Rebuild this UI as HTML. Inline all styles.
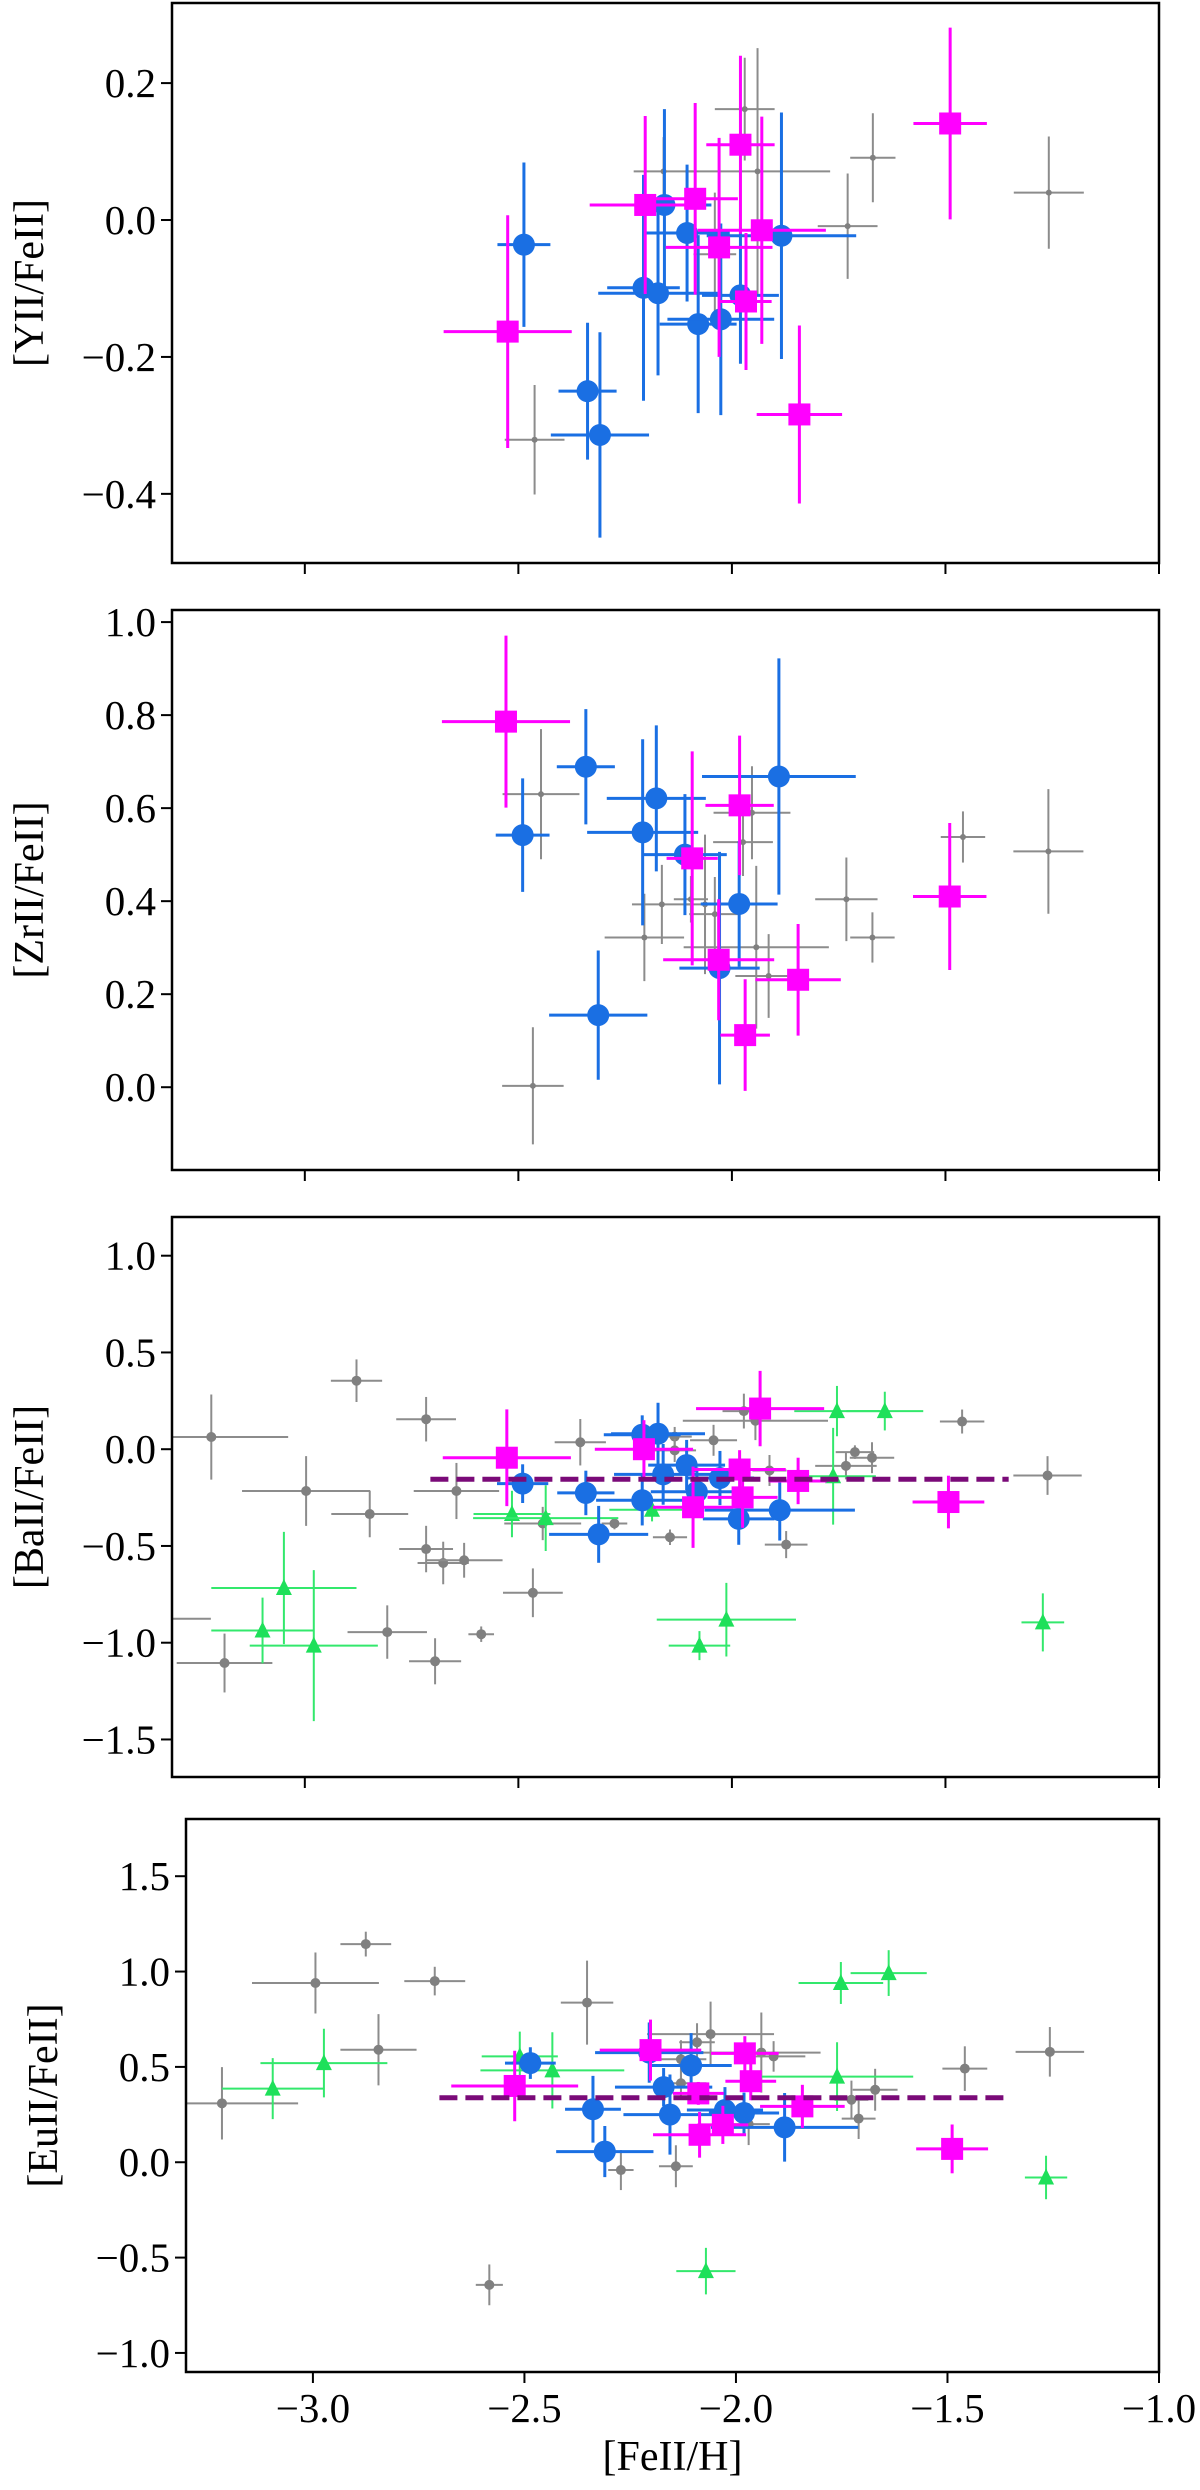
<!DOCTYPE html>
<html><head><meta charset="utf-8"><style>
html,body{margin:0;padding:0;background:#fff;}
svg{display:block;}
text{font-family:"Liberation Serif","DejaVu Serif",serif;fill:#000;}
</style></head><body>
<svg id="fig" width="1200" height="2490" viewBox="0 0 1200 2490" xmlns="http://www.w3.org/2000/svg"></svg>
<script>
// ---- Panel 1: [YII/FeII]
const yGrayX=[-2.462,-1.97,-2.16,-1.94,-2.04,-1.67,-1.729,-1.258];
const yGrayY=[-0.321,0.162,0.071,0.071,-0.05,0.091,-0.009,0.04];
const yGrayXe=[0.07,0.07,0.07,0.17,0.05,0.053,0.07,0.082];
const yGrayYe=[0.08,0.075,0.05,0.18,0.09,0.065,0.077,0.082];
const yBlueX=[-2.487,-2.158,-2.105,-1.884,-2.207,-2.173,-1.98,-2.079,-2.026,-2.338,-2.309];
const yBlueY=[-0.036,0.022,-0.019,-0.023,-0.099,-0.107,-0.11,-0.152,-0.145,-0.25,-0.314];
const yBlueXe=[0.062,0.11,0.1,0.175,0.085,0.14,0.09,0.09,0.125,0.068,0.115];
const yBlueYe=[0.12,0.14,0.1,0.18,0.165,0.12,0.1,0.13,0.14,0.1,0.15];
const yMagX=[-2.525,-2.203,-2.086,-1.98,-1.93,-2.03,-1.967,-1.842,-1.489];
const yMagY=[-0.163,0.022,0.031,0.11,-0.015,-0.04,-0.119,-0.284,0.141];
const yMagXe=[0.15,0.13,0.1,0.08,0.15,0.125,0.06,0.1,0.086];
const yMagYe=[0.17,0.13,0.14,0.13,0.166,0.16,0.1,0.13,0.14];
// ---- Panel 2: [ZrII/FeII]
const zGrayX=[-2.447,-1.953,-1.974,-2.164,-2.096,-2.063,-2.04,-2.205,-1.943,-1.914,-1.732,-1.671,-1.459,-1.259,-2.466];
const zGrayY=[0.63,0.59,0.527,0.393,0.404,0.393,0.372,0.322,0.301,0.239,0.404,0.322,0.538,0.507,0.003];
const zGrayXe=[0.09,0.09,0.07,0.07,0.04,0.05,0.06,0.093,0.17,0.078,0.073,0.052,0.052,0.082,0.072];
const zGrayYe=[0.14,0.1,0.073,0.085,0.05,0.15,0.08,0.094,0.175,0.09,0.09,0.054,0.055,0.134,0.126];
const zBlueX=[-2.49,-2.342,-2.177,-2.209,-2.11,-1.89,-1.983,-2.029,-2.313];
const zBlueY=[0.542,0.689,0.621,0.548,0.5,0.668,0.394,0.256,0.155];
const zBlueXe=[0.063,0.068,0.116,0.13,0.098,0.18,0.09,0.094,0.115];
const zBlueYe=[0.122,0.124,0.157,0.2,0.13,0.254,0.135,0.25,0.139];
const zMagX=[-2.529,-1.982,-2.093,-2.031,-1.845,-1.969,-1.49];
const zMagY=[0.786,0.606,0.492,0.274,0.231,0.112,0.41];
const zMagXe=[0.15,0.08,0.06,0.13,0.1,0.058,0.086];
const zMagYe=[0.185,0.15,0.23,0.13,0.12,0.12,0.158];
// ---- Panel 3: [BaII/FeII]
const bGrayX=[-3.219,-2.879,-2.716,-2.997,-2.848,-2.645,-2.355,-2.716,-2.676,-2.627,-2.466,-2.807,-2.695,-3.188,-2.587,-3.36,-2.443,-2.275,-2.145,-1.873,-2.134,-2.134,-2.043,-1.972,-1.945,-1.712,-1.672,-1.733,-1.461,-1.261,-1.912];
const bGrayY=[0.063,0.354,0.155,-0.216,-0.335,-0.216,0.036,-0.516,-0.588,-0.574,-0.742,-0.945,-1.096,-1.105,-0.956,-0.876,-0.384,-0.384,-0.455,-0.493,0.065,-0.006,0.046,0.197,0.147,-0.015,-0.044,-0.086,0.143,-0.136,-0.11];
const bGrayXe=[0.18,0.06,0.07,0.15,0.09,0.1,0.06,0.063,0.06,0.09,0.07,0.093,0.061,0.112,0.03,0.14,0.09,0.03,0.04,0.05,0.04,0.05,0.055,0.05,0.17,0.045,0.052,0.072,0.052,0.08,0.04];
const bGrayYe=[0.22,0.11,0.115,0.18,0.12,0.145,0.12,0.12,0.11,0.09,0.126,0.138,0.119,0.152,0.04,0.1,0.086,0.03,0.04,0.07,0.05,0.06,0.08,0.09,0.1,0.035,0.08,0.07,0.062,0.1,0.08];
const bGreenX=[-3.049,-3.099,-2.979,-2.515,-2.436,-2.187,-1.754,-1.642,-1.763,-2.013,-2.076,-1.272];
const bGreenY=[-0.717,-0.937,-1.015,-0.335,-0.356,-0.313,0.197,0.197,-0.14,-0.881,-1.015,-0.895];
const bGreenXe=[0.17,0.12,0.15,0.09,0.17,0.1,0.1,0.09,0.1,0.163,0.072,0.05];
const bGreenYe=[0.29,0.17,0.39,0.12,0.17,0.06,0.13,0.1,0.25,0.19,0.075,0.15];
const bMagX=[-2.527,-2.206,-1.934,-1.982,-1.845,-1.493,-2.091,-1.975];
const bMagY=[-0.044,0.0,0.21,-0.105,-0.164,-0.273,-0.3,-0.249];
const bMagXe=[0.15,0.115,0.15,0.108,0.067,0.084,0.094,0.082];
const bMagYe=[0.25,0.15,0.195,0.1,0.12,0.136,0.21,0.157];
const bBlueX=[-2.49,-2.342,-2.21,-2.173,-2.161,-2.106,-2.21,-2.082,-2.028,-1.984,-1.888,-2.312];
const bBlueY=[-0.178,-0.226,0.075,0.08,-0.13,-0.082,-0.264,-0.22,-0.149,-0.36,-0.315,-0.44];
const bBlueXe=[0.06,0.067,0.09,0.11,0.115,0.09,0.108,0.108,0.08,0.084,0.176,0.116];
const bBlueYe=[0.1,0.115,0.1,0.16,0.157,0.13,0.13,0.125,0.14,0.134,0.157,0.147];
const bMean=[-0.155];
const bMeanRange=[-2.706,-1.352];
// ---- Panel 4: [EuII/FeII]
const eGrayX=[-3.215,-2.994,-2.875,-2.712,-2.845,-2.352,-2.583,-2.272,-2.142,-1.71,-1.459,-1.258,-2.06,-2.092,-2.13,-2.13,-1.94,-1.911,-1.671,-1.727,-1.97];
const eGrayY=[0.309,0.94,1.144,0.95,0.59,0.837,-0.643,-0.041,-0.021,0.229,0.491,0.579,0.672,0.629,0.54,0.414,0.575,0.555,0.38,0.328,0.2];
const eGrayXe=[0.18,0.15,0.06,0.072,0.09,0.062,0.032,0.03,0.04,0.04,0.053,0.081,0.15,0.042,0.06,0.06,0.14,0.075,0.053,0.04,0.05];
const eGrayYe=[0.19,0.16,0.065,0.075,0.187,0.22,0.107,0.105,0.11,0.107,0.117,0.13,0.17,0.1,0.1,0.08,0.21,0.08,0.11,0.1,0.11];
const eGreenX=[-3.095,-2.974,-2.511,-2.434,-1.752,-1.639,-1.761,-2.071,-1.267];
const eGreenY=[0.386,0.52,0.555,0.482,0.94,0.992,0.449,-0.571,-0.08];
const eGreenXe=[0.12,0.15,0.09,0.17,0.1,0.09,0.18,0.07,0.05];
const eGreenYe=[0.16,0.18,0.13,0.2,0.11,0.12,0.18,0.122,0.114];
const eMagX=[-2.523,-2.202,-1.979,-1.965,-1.843,-2.086,-2.031,-2.089,-1.489];
const eMagY=[0.4,0.588,0.571,0.425,0.293,0.144,0.196,0.361,0.07];
const eMagXe=[0.15,0.12,0.08,0.06,0.1,0.11,0.06,0.06,0.085];
const eMagYe=[0.185,0.16,0.09,0.1,0.113,0.12,0.1,0.06,0.128];
const eBlueX=[-2.486,-2.205,-2.106,-2.171,-2.338,-2.156,-2.026,-1.981,-1.885,-2.31];
const eBlueY=[0.52,0.575,0.507,0.394,0.278,0.25,0.274,0.258,0.183,0.056];
const eBlueXe=[0.06,0.128,0.096,0.115,0.066,0.11,0.09,0.083,0.174,0.115];
const eBlueYe=[0.083,0.158,0.17,0.1,0.175,0.21,0.12,0.107,0.18,0.134];
const eMean=[0.338];
const eMeanRange=[-2.701,-1.352];
// ---- axes ticks
const xTicks=[-3.0,-2.5,-2.0,-1.5,-1.0];
const yTicksY=[-0.4,-0.2,0.0,0.2];
const yTicksZ=[0.0,0.2,0.4,0.6,0.8,1.0];
const yTicksB=[-1.5,-1.0,-0.5,0.0,0.5,1.0];
const yTicksE=[-1.0,-0.5,0.0,0.5,1.0,1.5];

const NS='http://www.w3.org/2000/svg';
const svg=document.getElementById('fig');
function mk(tag,attrs,parent){const e=document.createElementNS(NS,tag);for(const k in attrs)e.setAttribute(k,attrs[k]);(parent||svg).appendChild(e);return e;}
function fmt(v){const s=Math.abs(v).toFixed(1);return (v<-1e-9?'\u2212':'')+s;}

const panels=[
 {key:'yii',title:'[YII/FeII]',L:172,R:1159,T:3,B:563,xmin:-3.311,xmax:-1.0,ymin:-0.501,ymax:0.317,ticks:yTicksY,gr:3,
  series:[['gray',yGrayX,yGrayY,yGrayXe,yGrayYe],['blue',yBlueX,yBlueY,yBlueXe,yBlueYe],['magenta',yMagX,yMagY,yMagXe,yMagYe]]},
 {key:'zrii',title:'[ZrII/FeII]',L:172,R:1159,T:610,B:1170,xmin:-3.311,xmax:-1.0,ymin:-0.178,ymax:1.026,ticks:yTicksZ,gr:3,
  series:[['gray',zGrayX,zGrayY,zGrayXe,zGrayYe],['blue',zBlueX,zBlueY,zBlueXe,zBlueYe],['magenta',zMagX,zMagY,zMagXe,zMagYe]]},
 {key:'baii',title:'[BaII/FeII]',L:172,R:1159,T:1217,B:1777,xmin:-3.311,xmax:-1.0,ymin:-1.694,ymax:1.2,ticks:yTicksB,gr:5,
  series:[['gray',bGrayX,bGrayY,bGrayXe,bGrayYe],['green',bGreenX,bGreenY,bGreenXe,bGreenYe],['blue',bBlueX,bBlueY,bBlueXe,bBlueYe],['magenta',bMagX,bMagY,bMagXe,bMagYe]],
  mean:bMean,meanRange:bMeanRange},
 {key:'euii',title:'[EuII/FeII]',L:186,R:1159,T:1819,B:2372,xmin:-3.30,xmax:-1.0,ymin:-1.10,ymax:1.80,ticks:yTicksE,gr:5,xlabels:true,
  series:[['gray',eGrayX,eGrayY,eGrayXe,eGrayYe],['green',eGreenX,eGreenY,eGreenXe,eGreenYe],['blue',eBlueX,eBlueY,eBlueXe,eBlueYe],['magenta',eMagX,eMagY,eMagXe,eMagYe]],
  mean:eMean,meanRange:eMeanRange}
];
const col={gray:'#808080',green:'#1ee05a',blue:'#1a6fe3',magenta:'#ff00ff'};
const ecol={gray:'#8c8c8c',green:'#33e86c',blue:'#1a6fe3',magenta:'#ff00ff'};
const elw={gray:2,green:2,blue:3,magenta:3};

panels.forEach((p,pi)=>{
  const sx=v=>p.L+(v-p.xmin)/(p.xmax-p.xmin)*(p.R-p.L);
  const sy=v=>p.B-(v-p.ymin)/(p.ymax-p.ymin)*(p.B-p.T);
  const g=mk('g',{});
  
  
  const cp=mk('clipPath',{id:'clip'+pi},g);
  mk('rect',{x:p.L,y:p.T,width:p.R-p.L,height:p.B-p.T},cp);
  const plot=mk('g',{'clip-path':'url(#clip'+pi+')'},g);
  
  
  p.series.forEach(s=>{
    const [name,X,Y,XE,YE]=s;
    const sg=mk('g',{},plot);
    
    
    for(let i=0;i<X.length;i++){
      const cx=sx(X[i]),cy=sy(Y[i]);
      const eb=mk('g',{stroke:ecol[name],'stroke-width':elw[name]},sg);
      
      
      mk('line',{x1:sx(X[i]-XE[i]),x2:sx(X[i]+XE[i]),y1:cy,y2:cy},eb);
      mk('line',{x1:cx,x2:cx,y1:sy(Y[i]-YE[i]),y2:sy(Y[i]+YE[i])},eb);
      let m;
      if(name==='gray'){m=mk('circle',{cx:cx,cy:cy,r:p.gr,fill:col.gray},sg);}
      else if(name==='blue'){m=mk('circle',{cx:cx,cy:cy,r:11,fill:col.blue},sg);}
      else if(name==='magenta'){m=mk('rect',{x:cx-11,y:cy-11,width:22,height:22,fill:col.magenta},sg);}
      else {m=mk('polygon',{points:(cx-8)+','+(cy+7)+' '+(cx+8)+','+(cy+7)+' '+cx+','+(cy-9),fill:col.green},sg);}
      
      
    }
  });
  if(p.mean){
    const ml=mk('line',{x1:sx(p.meanRange[0]),x2:sx(p.meanRange[1]),y1:sy(p.mean[0]),y2:sy(p.mean[0]),stroke:'#7a0a78','stroke-width':5,'stroke-dasharray':'18,8'},plot);
    
    
  }
  const fr=mk('rect',{x:p.L,y:p.T,width:p.R-p.L,height:p.B-p.T,fill:'none',stroke:'#000','stroke-width':2.5},g);
  
  
  p.ticks.forEach(t=>{
    const y=sy(t);
    const tk=mk('line',{x1:p.L-11,x2:p.L,y1:y,y2:y,stroke:'#000','stroke-width':2},g);
    
    
    const tl=mk('text',{x:p.L-16,y:y+14,'text-anchor':'end','font-size':41},g);
    tl.textContent=fmt(t);
    
    
  });
  xTicks.forEach(t=>{
    const x=sx(t);
    const tk=mk('line',{x1:x,x2:x,y1:p.B,y2:p.B+11,stroke:'#000','stroke-width':2},g);
    
    
    if(p.xlabels){
      const tl=mk('text',{x:x,y:p.B+50,'text-anchor':'middle','font-size':41},g);
      tl.textContent=fmt(t);
      
      
    }
  });
  const yc=(p.T+p.B)/2, xt=pi===3?44:30;
  const yt=mk('text',{x:xt,y:yc,'text-anchor':'middle','font-size':42,transform:'rotate(-90 '+xt+' '+yc+')','dominant-baseline':'central'},g);
  yt.textContent=p.title;
  
  
  if(p.xlabels){
    const xt2=mk('text',{x:(p.L+p.R)/2,y:2470,'text-anchor':'middle','font-size':42},g);
    xt2.textContent='[FeII/H]';
    
    
  }
});
</script>
</body></html>
